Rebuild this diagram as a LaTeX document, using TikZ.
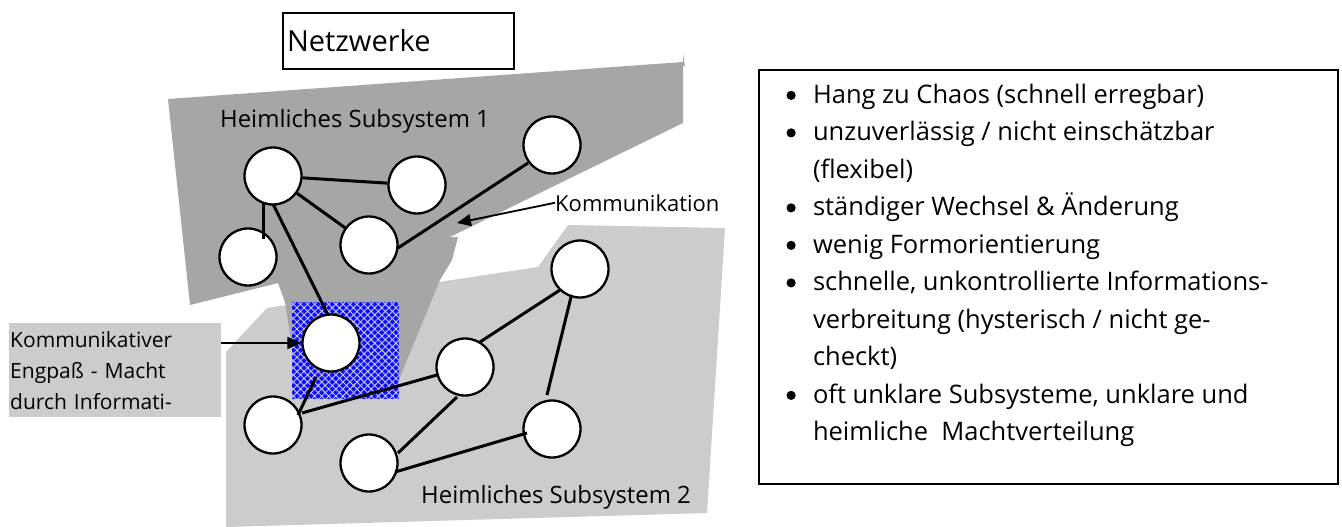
\documentclass[tikz,border=0pt]{standalone}
\usepackage{fontspec}
\setmainfont{Open Sans}
\usetikzlibrary{arrows.meta,patterns.meta,calc}

\definecolor{darkarea}{HTML}{A6A6A6}
\definecolor{lightarea}{HTML}{CCCCCC}
\definecolor{netblue}{HTML}{1010F8}
\definecolor{netlight}{HTML}{C8C8FF}

\tikzset{
  member/.style={circle, draw=black, line width=2.3pt, fill=white,
                 minimum size=57pt, inner sep=0pt},
  link/.style={line width=3pt},
  pointer/.style={line width=1.8pt, -{Triangle[length=14pt,width=12pt]}},
  caption/.style={inner sep=0pt, anchor=base west},
  frame/.style={draw, line width=2pt},
}

% list bullet: a filled dot, centred 8pt above the baseline
\newcommand\listdot{\makebox[26.5pt][l]{\tikz[baseline=-8pt]\fill (0,0) circle (4.6pt);}}
\newcommand\listcont{\hspace*{26.5pt}}

\begin{document}
\begin{tikzpicture}[x=1pt, y=-1pt]
\useasboundingbox (0,0) rectangle (1342,527);

% second subsystem (light area)
\fill[lightarea] (226,352) -- (267,308) -- (538,267) -- (568,225) -- (725,228)
  -- (707,513) -- (226,527) -- cycle;

% first subsystem (dark area with funnel)
\fill[darkarea] (168,99) -- (683,62) -- (683,53) -- (685,67) -- (683,65)
  -- (683,123) -- (552,187) -- (450,237) -- (458,237) -- (452,260)
  -- (440,280) -- (400,377) -- (393,398) -- (300,398) -- (285,302)
  -- (278,283) -- (190,305) -- cycle;

% bottleneck square
\fill[netblue] (292,302) rectangle (399,399);
\fill[pattern={Hatch[angle=45,distance=5pt,line width=0.9pt]}, pattern color=netlight]
  (292,302) rectangle (399,399);

% title
\node[frame, anchor=north west, minimum width=231pt,
      minimum height=56pt, inner xsep=4pt, text width=223pt, align=left,
      font=\fontsize{29}{35}\selectfont] (title) at (282,12) {Netzwerke};

% captions
\node[caption, font=\fontsize{23.9}{30}\selectfont] (sub1) at (220,128) {Heimliches Subsystem 1};
\node[caption, font=\fontsize{23.9}{30}\selectfont] (sub2) at (421,503) {Heimliches Subsystem 2};
\node[caption, font=\fontsize{22}{26}\selectfont] (komm) at (555,211) {Kommunikation};

% members
\node[member] (A) at (273,176) {};
\node[member] (B) at (417,185) {};
\node[member] (C) at (248,257) {};
\node[member] (D) at (369,245) {};
\node[member] (E) at (552,145) {};
\node[member] (F) at (331,343) {};
\node[member] (G) at (273,425) {};
\node[member] (H) at (369,463) {};
\node[member] (I) at (465,367) {};
\node[member] (J) at (580,269) {};
\node[member] (K) at (552,429) {};

% links
\draw[link] (A) -- (B);
\draw[link] (A) -- (D);
\draw[link] ($(A)+(-10,26)$) -- ($(C)+(15,-18)$);
\draw[link] ($(A)+(0,28)$) -- ($(F)+(-3,-28)$);
\draw[link] ($(D)+(29,3)$) -- ($(E)+(-24,18)$);
\draw[link] ($(F)+(-15,34)$) -- ($(G)+(25,-10)$);
\draw[link] ($(G)+(29,-12)$) -- ($(I)+(-28,8)$);
\draw[link] ($(I)+(15,-25)$) -- ($(J)+(-20,21)$);
\draw[link] ($(J)+(-9,28)$) -- ($(K)+(-5,-34)$);
\draw[link] ($(I)+(-8,30)$) -- ($(H)+(29,-10)$);
\draw[link] ($(H)+(26,9)$) -- ($(K)+(-25,4)$);

% bottleneck label
\node[fill=lightarea, anchor=north west, minimum width=212pt, minimum height=94pt,
      inner xsep=1pt, inner ysep=0pt, text width=210pt, align=left,
      font=\fontsize{21}{31}\selectfont] (engpass) at (9,323)
  {Kommunikativer\\Engpaß - Macht\\durch Informati-};

% pointers
\coordinate (gap) at (457,223);
\draw[pointer] (komm.west) -- (gap);
\draw[pointer] (engpass.east |- F.west) -- (F.west);

% list of traits
\node[frame, anchor=north west, inner xsep=27.5pt, inner ysep=14pt,
      font=\fontsize{25.5}{37.5}\selectfont] (traits) at (758,69)
  {\parbox[c][386pt][t]{524pt}{\raggedright
   \listdot Hang zu Chaos (schnell erregbar)\par
   \listdot unzuverlässig / nicht einschätzbar\par
   \listcont (flexibel)\par
   \listdot ständiger Wechsel \& Änderung\par
   \listdot wenig Formorientierung\par
   \listdot schnelle, unkontrollierte Informations-\par
   \listcont verbreitung (hysterisch / nicht ge-\par
   \listcont checkt)\par
   \listdot oft unklare Subsysteme, unklare und\par
   \listcont heimliche\ \ Machtverteilung}};
\end{tikzpicture}
\end{document}
